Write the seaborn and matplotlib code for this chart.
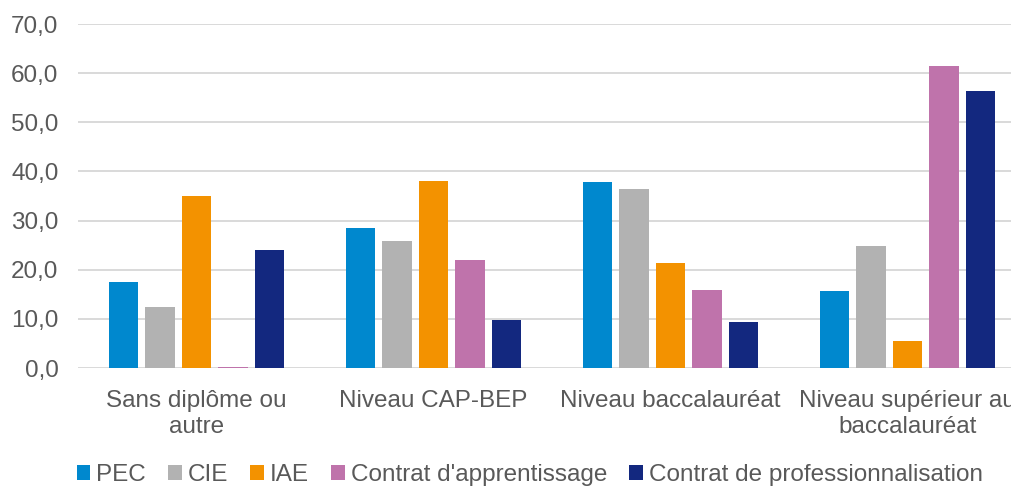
import matplotlib
matplotlib.use("Agg")
import matplotlib.pyplot as plt
import seaborn as sns
import pandas as pd
from matplotlib.patches import Patch
from matplotlib.ticker import FuncFormatter

categories = ["Sans diplôme ou\nautre", "Niveau CAP-BEP", "Niveau baccalauréat",
              "Niveau supérieur au\nbaccalauréat"]
series = ["PEC", "CIE", "IAE", "Contrat d'apprentissage", "Contrat de professionnalisation"]
pec = [17.4, 28.5, 37.9, 15.7]
cie = [12.4, 25.9, 36.5, 24.9]
iae = [34.9, 38.0, 21.3, 5.5]
apprentissage = [0.2, 22.0, 15.9, 61.5]
professionnalisation = [24.1, 9.8, 9.4, 56.4]
colors = ["#0088CE", "#B2B2B2", "#F39200", "#BF73AB", "#13287F"]

values = [pec, cie, iae, apprentissage, professionnalisation]
rows = []
for s, vals in zip(series, values):
    for c, v in zip(categories, vals):
        rows.append({"cat": c, "serie": s, "val": v})
df = pd.DataFrame(rows)

sns.set_theme(style="white")
plt.rcParams['font.family'] = ['Liberation Sans', 'DejaVu Sans']

FS = 17.5
fig = plt.figure(figsize=(10.11, 4.86), dpi=100)
ax = fig.add_axes([78 / 1011, 1 - 368 / 486, 948 / 1011, (368 - 24) / 486])

sns.barplot(data=df, x="cat", y="val", hue="serie", order=categories, hue_order=series,
            palette=colors, width=0.77, gap=0.2, ax=ax, legend=False, linewidth=0,
            saturation=1)

ax.set_xlim(-0.5, 3.5)
ax.set_ylim(0, 70)
ax.set_yticks(range(0, 71, 10))
ax.yaxis.set_major_formatter(FuncFormatter(lambda v, p: f"{v:.1f}".replace(".", ",")))
ax.grid(axis="y", color="#D9D9D9", linewidth=1.4)
ax.set_axisbelow(True)
for sp in ax.spines.values():
    sp.set_visible(False)
ax.tick_params(axis="y", length=0, pad=14, labelsize=FS, labelcolor="#595959")
ax.tick_params(axis="x", length=0, pad=16, labelsize=FS, labelcolor="#595959")
ax.set_xlabel("")
ax.set_ylabel("")
for lbl in ax.get_xticklabels():
    lbl.set_linespacing(1.2)

handles = [Patch(facecolor=c, edgecolor="none") for c in colors]
fig.legend(handles, series, loc="center", bbox_to_anchor=(0.524, 1 - 475 / 486), ncol=5,
           frameon=False, fontsize=FS, labelcolor="#595959", handlelength=0.55,
           handleheight=0.55, handletextpad=0.25, columnspacing=0.92, borderaxespad=0)

fig.savefig("out.png", dpi=100)
